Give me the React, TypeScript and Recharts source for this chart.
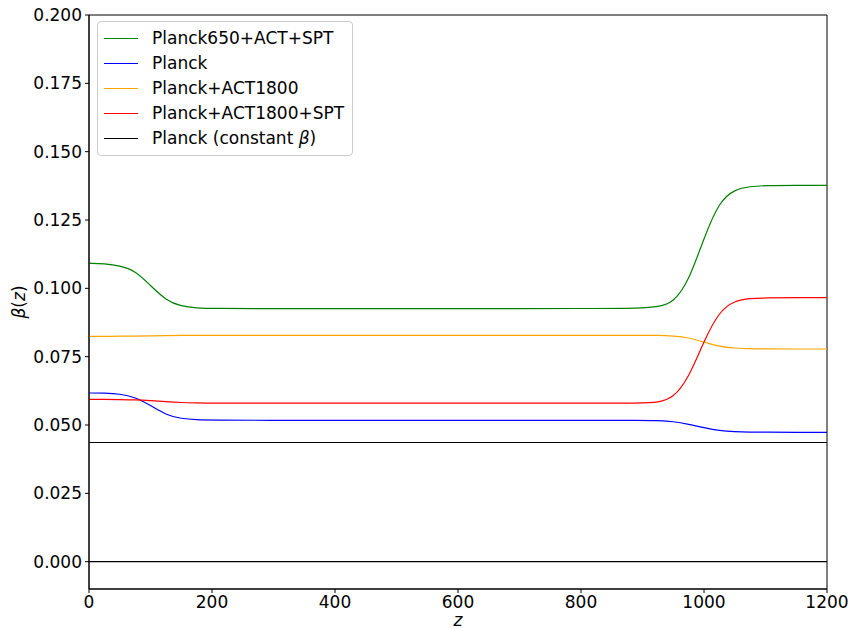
import {
  Legend,
  Line,
  LineChart,
  ReferenceArea,
  ReferenceLine,
  XAxis,
  YAxis,
} from "recharts";

// redshift grid the curves were read at
const Z = [
  0, 25, 50, 75, 100, 125, 150, 175, 200, 300, 400, 500, 600, 700, 800, 900,
  925, 950, 975, 1000, 1025, 1050, 1075, 1100, 1150, 1200,
];

const planck650ActSpt = [
  0.1092, 0.109, 0.1083, 0.1065, 0.1010, 0.0956, 0.0934, 0.0928, 0.0926,
  0.0926, 0.0926, 0.0926, 0.0926, 0.0926, 0.0926, 0.0927, 0.0932, 0.0947,
  0.1025, 0.1185, 0.1319, 0.1362, 0.1373, 0.1376, 0.1377, 0.1377,
];
const planck = [
  0.0617, 0.0617, 0.0614, 0.0602, 0.0572, 0.0537, 0.0523, 0.0519, 0.0518,
  0.0517, 0.0517, 0.0517, 0.0517, 0.0517, 0.0517, 0.0517, 0.0516, 0.0513,
  0.0503, 0.049, 0.0479, 0.0475, 0.0474, 0.0474, 0.0473, 0.0473,
];
const planckAct1800 = [
  0.0824, 0.0824, 0.0825, 0.0825, 0.0826, 0.0827, 0.0828, 0.0828, 0.0828,
  0.0828, 0.0828, 0.0828, 0.0828, 0.0828, 0.0828, 0.0828, 0.0828, 0.0826,
  0.082, 0.0803, 0.0787, 0.0781, 0.0779, 0.0778, 0.0778, 0.0778,
];
const planckAct1800Spt = [
  0.0594, 0.0594, 0.0593, 0.0592, 0.0589, 0.0585, 0.0582, 0.0581, 0.058,
  0.058, 0.058, 0.058, 0.058, 0.058, 0.058, 0.058, 0.0582, 0.0598, 0.0672,
  0.0808, 0.0917, 0.0955, 0.0963, 0.0965, 0.0966, 0.0966,
];
const planckConstant = Z.map(() => 0.0436);

const X_TICKS = [0, 200, 400, 600, 800, 1000, 1200];
const Y_TICKS = [0, 0.025, 0.05, 0.075, 0.1, 0.125, 0.15, 0.175, 0.2];

const SERIES = [
  { key: "g", name: "Planck650+ACT+SPT", color: "#008000", values: planck650ActSpt },
  { key: "b", name: "Planck", color: "#0000ff", values: planck },
  { key: "o", name: "Planck+ACT1800", color: "#ffa500", values: planckAct1800 },
  { key: "r", name: "Planck+ACT1800+SPT", color: "#ff0000", values: planckAct1800Spt },
  { key: "k", name: "Planck (constant β)", color: "#000000", values: planckConstant },
];

const data = Z.map((z, i) => {
  const row: Record<string, number> = { z };
  SERIES.forEach((s) => {
    row[s.key] = s.values[i];
  });
  return row;
});

const FONT = "DejaVu Sans";
const TICK = { fontSize: 17, fill: "#000", fontFamily: FONT };

// β(z) with matplotlib-style mathtext: italic symbols, upright parens
function BetaLabel(props: any) {
  const vb = props.viewBox || { x: 0, y: 15, height: 574 };
  const cy = vb.y + vb.height / 2;
  const cx = 25;
  return (
    <text
      x={cx}
      y={cy}
      transform={`rotate(-90 ${cx} ${cy})`}
      textAnchor="middle"
      fontSize={17}
      fontFamily={FONT}
      fill="#000"
    >
      <tspan fontStyle="italic">β</tspan>
      <tspan>(</tspan>
      <tspan fontStyle="italic">z</tspan>
      <tspan>)</tspan>
    </text>
  );
}

function LegendBox() {
  return (
    <div
      style={{
        border: "1px solid #cccccc",
        borderRadius: 4,
        background: "rgba(255,255,255,0.8)",
        padding: "4px 8px 4px 6px",
        fontFamily: FONT,
        fontSize: 17,
        lineHeight: "25px",
        color: "#000",
      }}
    >
      {SERIES.map((s) => (
        <div key={s.key} style={{ display: "flex", alignItems: "center" }}>
          <span
            style={{
              display: "inline-block",
              width: 34,
              height: 0,
              borderTop: `1.3px solid ${s.color}`,
              marginRight: 14,
            }}
          />
          {s.key === "k" ? (
            <span>
              Planck (constant <i>β</i>)
            </span>
          ) : (
            <span>{s.name}</span>
          )}
        </div>
      ))}
    </div>
  );
}

export default function App() {
  return (
    <div style={{ position: "absolute", left: 0, top: 0, width: 853, height: 628, background: "#fff" }}>
      <LineChart
        width={853}
        height={628}
        data={data}
        margin={{ top: 15, right: 26, bottom: 0, left: 0 }}
      >
        <XAxis
          dataKey="z"
          type="number"
          domain={[0, 1200]}
          ticks={X_TICKS}
          tick={TICK}
          tickSize={4}
          tickMargin={3}
          height={39}
          stroke="#000"
          allowDataOverflow
          label={{
            value: "z",
            position: "insideBottom",
            offset: 2,
            style: { fontSize: 17, fontStyle: "italic", fill: "#000", fontFamily: FONT },
          }}
        />
        <YAxis
          type="number"
          domain={[-0.01, 0.2]}
          ticks={Y_TICKS}
          tick={TICK}
          tickSize={4}
          tickMargin={3}
          width={89}
          stroke="#000"
          allowDataOverflow
          tickFormatter={(v: number) => v.toFixed(3)}
          label={<BetaLabel />}
        />
        <ReferenceArea
          x1={0}
          x2={1200}
          y1={-0.01}
          y2={0.2}
          fill="none"
          stroke="#000"
          strokeWidth={1}
        />
        <ReferenceLine y={0} stroke="#000" strokeWidth={1.2} />
        {SERIES.map((s) => (
          <Line
            key={s.key}
            type="basis"
            dataKey={s.key}
            name={s.name}
            stroke={s.color}
            strokeWidth={1.2}
            dot={false}
            isAnimationActive={false}
          />
        ))}
        <Legend
          layout="vertical"
          align="center"
          verticalAlign="middle"
          content={() => <LegendBox />}
          wrapperStyle={{ position: "absolute", top: 21, left: 97, width: "auto", height: "auto" }}
        />
      </LineChart>
    </div>
  );
}
